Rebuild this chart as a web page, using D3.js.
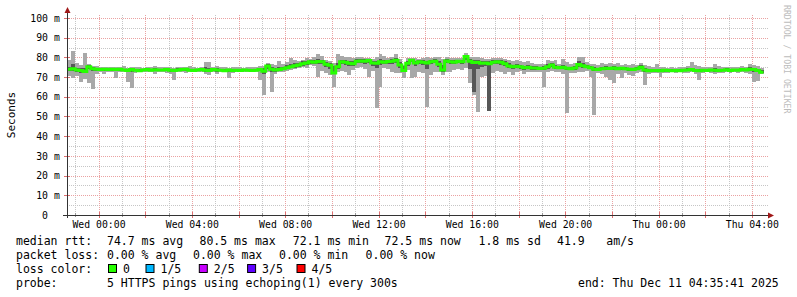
<!DOCTYPE html>
<html>
<head>
<meta charset="utf-8">
<script src="https://cdn.jsdelivr.net/npm/d3@7"></script>
<style>
  html, body { margin: 0; padding: 0; background: #fff; }
  text { font-family: 'DejaVu Sans Mono', monospace; fill: #000; white-space: pre; }
</style>
</head>
<body>
<div id="canvas"></div>
<script>
// one sample every 10 minutes, starting Tue Dec 9 22:40 UTC
var firstSample = Date.UTC(2025, 11, 9, 22, 40);
var stepMs = 10 * 60 * 1000;

// median rtt (ms)
var median = [
  74.0, 74.2, 73.6, 73.4, 72.8, 75.2, 74.3, 74.0, 73.8, 74.0, 73.8, 74.0,
  73.8, 74.0, 73.6, 73.4, 73.8, 73.5, 73.2, 73.6, 73.8, 73.5, 73.7, 73.6,
  73.6, 73.8, 73.5, 73.4, 73.6, 73.8, 74.0, 73.5, 73.4, 73.6, 73.8, 73.5,
  73.4, 73.8, 73.6, 73.5, 73.2, 73.6, 73.4, 73.5, 73.3, 73.6, 73.5, 73.4,
  73.5, 73.8, 73.0, 75.6, 74.0, 73.6, 73.8, 74.2, 74.8, 75.2, 75.8, 76.2,
  76.8, 77.2, 77.8, 77.6, 77.9, 77.8, 76.5, 76.0, 72.1, 75.3, 77.8, 77.6,
  77.0, 76.8, 78.0, 78.2, 78.0, 78.4, 77.2, 77.0, 77.8, 77.6, 77.9, 78.0,
  78.6, 76.2, 73.4, 77.0, 78.6, 77.2, 77.8, 77.5, 77.2, 77.8, 78.0, 76.5,
  73.6, 78.2, 77.8, 77.6, 78.0, 77.8, 80.5, 78.0, 77.4, 77.5, 77.0, 77.2,
  76.8, 77.6, 77.8, 77.5, 76.8, 75.6, 75.3, 75.5, 75.2, 74.8, 75.0, 74.6,
  74.6, 74.4, 74.5, 75.2, 76.1, 75.0, 74.8, 75.0, 74.5, 74.3, 74.6, 76.4,
  75.8, 75.3, 74.8, 74.0, 73.8, 74.2, 74.5, 74.4, 74.6, 74.3, 74.5, 74.2,
  74.0, 73.8, 74.2, 75.0, 73.6, 73.2, 73.4, 73.3, 73.2, 73.5, 73.3, 73.2,
  73.4, 73.2, 73.5, 73.6, 73.8, 73.4, 73.2, 73.5, 73.3, 73.6, 73.5, 73.4,
  73.5, 73.7, 73.4, 73.6, 73.5, 73.8, 73.6, 74.0, 73.8, 73.4, 72.5
];

// outer smoke: slowest / fastest ping (ms)
var smokeHi = [
  78.5, 83.0, 77.2, 76.0, 82.4, 76.5, 75.5, 75.5, 75.0, 75.2, 75.0, 75.3,
  75.2, 75.0, 75.5, 74.8, 75.0, 75.3, 75.0, 74.8, 75.0, 75.2, 75.6, 75.0,
  75.0, 75.3, 75.0, 74.8, 75.2, 75.0, 75.3, 75.4, 75.0, 74.8, 75.0, 77.8,
  77.5, 75.0, 75.5, 75.0, 75.0, 74.8, 75.0, 74.9, 75.0, 74.8, 75.0, 75.0,
  75.0, 75.5, 75.8, 77.0, 76.5, 76.0, 78.2, 76.5, 77.5, 79.8, 78.5, 78.0,
  78.5, 79.5, 79.0, 80.0, 81.5, 80.5, 78.5, 78.0, 77.0, 81.5, 80.5, 80.2,
  80.4, 79.5, 80.0, 80.4, 79.8, 79.5, 79.0, 80.0, 81.5, 80.5, 79.5, 80.0,
  81.5, 79.0, 76.0, 79.5, 79.8, 79.5, 79.0, 79.5, 80.0, 79.8, 80.4, 80.0,
  79.0, 80.0, 79.5, 79.5, 79.5, 79.8, 82.0, 80.4, 80.4, 80.0, 79.5, 79.0,
  79.0, 79.8, 79.5, 79.8, 79.0, 78.7, 78.0, 78.5, 78.0, 77.5, 78.0, 77.2,
  76.5, 76.5, 76.8, 78.7, 78.0, 78.7, 76.8, 79.0, 77.5, 76.5, 77.0, 80.0,
  80.0, 77.5, 76.5, 76.5, 76.0, 77.0, 76.8, 77.0, 76.5, 77.0, 76.2, 76.5,
  76.0, 76.5, 76.0, 77.0, 76.2, 75.5, 75.0, 76.5, 75.2, 75.0, 74.8, 75.0,
  74.8, 75.0, 75.2, 75.5, 77.8, 76.0, 75.5, 75.0, 75.3, 75.0, 76.6, 75.4,
  75.0, 75.2, 75.0, 75.3, 75.0, 75.5, 75.2, 76.6, 76.0, 75.5, 74.5
];
var smokeLo = [
  70.5, 69.4, 70.5, 67.7, 69.0, 66.9, 64.0, 71.5, 72.5, 71.5, 72.5, 72.8,
  69.4, 72.5, 72.8, 67.7, 64.3, 72.0, 72.5, 72.8, 72.5, 72.8, 71.8, 72.6,
  72.5, 72.0, 71.5, 68.5, 72.5, 72.8, 72.0, 72.6, 72.5, 72.8, 72.4, 71.5,
  71.0, 72.4, 71.4, 72.6, 72.5, 69.4, 72.0, 72.6, 72.8, 72.5, 72.4, 72.5,
  72.5, 68.5, 61.0, 72.5, 62.3, 71.5, 72.5, 72.8, 73.2, 73.8, 74.0, 74.5,
  75.0, 74.5, 76.0, 75.5, 70.2, 73.0, 72.0, 71.0, 65.1, 72.5, 73.0, 72.8,
  71.0, 73.5, 74.5, 75.0, 74.0, 70.2, 73.0, 54.2, 65.1, 74.5, 74.0, 72.5,
  72.0, 72.0, 69.4, 73.6, 69.4, 70.0, 72.8, 72.0, 55.0, 71.0, 72.8, 72.5,
  71.0, 72.5, 72.8, 73.5, 74.0, 73.5, 74.5, 67.0, 61.0, 52.4, 70.2, 70.5,
  53.0, 72.0, 73.0, 72.5, 71.5, 72.5, 71.0, 72.5, 73.0, 71.5, 72.5, 72.8,
  72.8, 72.5, 65.1, 72.5, 73.0, 72.5, 72.8, 71.5, 51.6, 72.0, 72.0, 72.5,
  72.5, 73.0, 70.2, 50.8, 72.0, 71.5, 70.0, 68.5, 66.9, 71.5, 69.4, 72.0,
  71.0, 70.5, 72.0, 72.5, 66.0, 71.5, 72.0, 72.2, 70.2, 72.0, 72.3, 72.4,
  72.3, 72.5, 72.0, 72.2, 72.5, 71.8, 68.5, 72.0, 72.4, 72.0, 71.5, 72.2,
  72.3, 72.5, 72.0, 72.4, 72.3, 72.5, 72.2, 71.5, 67.7, 68.0, 71.5
];

// inner smoke: 2nd / 4th ping (ms)
var innerHi = [
  75.0, 76.5, 74.8, 74.5, 74.5, 76.0, 75.0, 74.8, 74.5, 74.8, 74.6, 74.8,
  74.5, 74.8, 74.3, 74.2, 74.6, 74.2, 74.0, 74.3, 74.6, 74.2, 74.6, 74.3,
  74.3, 74.5, 74.2, 74.1, 74.4, 74.5, 74.8, 74.3, 74.1, 74.3, 74.5, 75.0,
  74.8, 74.5, 74.4, 74.2, 74.0, 74.2, 74.1, 74.2, 74.0, 74.3, 74.2, 74.1,
  74.2, 74.6, 74.5, 76.8, 75.2, 74.5, 75.0, 75.2, 76.0, 76.8, 77.0, 77.2,
  78.0, 78.3, 78.8, 78.6, 79.0, 78.8, 77.8, 77.2, 75.5, 77.0, 78.8, 78.6,
  78.4, 78.0, 79.0, 79.2, 79.0, 79.2, 78.4, 78.2, 79.0, 78.6, 78.8, 79.0,
  79.5, 77.5, 75.5, 78.2, 79.2, 78.2, 78.8, 78.6, 78.4, 78.8, 79.0, 78.0,
  76.0, 79.2, 78.8, 78.6, 78.8, 78.8, 81.0, 79.2, 78.8, 78.6, 78.0, 78.2,
  78.0, 78.8, 78.8, 78.5, 78.0, 77.0, 76.3, 76.5, 76.2, 75.8, 76.0, 75.5,
  75.5, 75.2, 75.4, 76.5, 77.0, 76.0, 75.6, 76.0, 75.3, 75.0, 75.6, 78.0,
  77.0, 76.2, 75.6, 75.0, 74.6, 75.0, 75.4, 75.3, 75.5, 75.2, 75.3, 75.0,
  74.8, 74.6, 75.0, 76.0, 74.5, 74.0, 74.2, 74.2, 74.0, 74.3, 74.1, 74.0,
  74.1, 74.0, 74.2, 74.4, 74.8, 74.2, 74.0, 74.2, 74.0, 74.3, 74.4, 74.1,
  74.2, 74.4, 74.1, 74.3, 74.2, 74.5, 74.3, 75.0, 74.8, 74.3, 73.5
];
var innerLo = [
  73.0, 73.2, 72.8, 72.0, 72.0, 74.0, 73.2, 73.2, 73.2, 73.2, 73.0, 73.3,
  73.1, 73.3, 72.9, 72.6, 72.8, 72.9, 72.6, 73.0, 73.1, 72.9, 73.0, 73.0,
  73.0, 73.1, 72.8, 72.6, 73.0, 73.2, 73.3, 72.9, 72.8, 73.0, 73.1, 72.8,
  72.6, 73.0, 72.8, 72.9, 72.6, 72.5, 72.8, 72.9, 72.7, 73.0, 72.9, 72.8,
  72.9, 73.0, 71.5, 74.0, 72.5, 72.8, 73.0, 73.5, 74.0, 74.5, 74.8, 75.3,
  75.8, 76.0, 76.8, 76.6, 76.5, 76.5, 75.0, 74.0, 71.5, 74.0, 76.5, 76.2,
  75.5, 75.5, 77.0, 77.2, 76.8, 77.0, 75.8, 74.5, 76.0, 76.6, 76.8, 76.5,
  77.0, 74.5, 72.5, 75.5, 77.5, 75.8, 76.8, 76.2, 74.0, 76.5, 77.0, 75.0,
  72.8, 77.0, 76.5, 76.6, 77.0, 76.8, 78.5, 74.0, 62.6, 74.0, 75.0, 75.5,
  53.0, 76.5, 76.8, 76.2, 75.5, 74.5, 74.3, 74.5, 74.2, 73.8, 74.0, 73.8,
  73.8, 73.6, 73.5, 74.2, 75.0, 74.0, 73.9, 74.0, 73.5, 73.5, 73.8, 75.0,
  74.8, 74.4, 73.9, 73.0, 73.0, 73.4, 73.6, 73.5, 73.8, 73.5, 73.6, 73.4,
  73.2, 73.0, 73.4, 74.0, 72.8, 72.5, 72.7, 72.6, 72.5, 72.8, 72.6, 72.5,
  72.8, 72.6, 72.9, 73.0, 73.1, 72.8, 72.5, 72.9, 72.7, 73.0, 72.8, 72.8,
  72.9, 73.1, 72.8, 73.0, 72.9, 73.1, 73.0, 73.2, 72.5, 72.6, 72.0
];

var yTicks = [0, 10, 20, 30, 40, 50, 60, 70, 80, 90, 100];
var lossLabels = ['0', '1/5', '2/5', '3/5', '4/5'];
var lossColors = ['#26ff00', '#00b8ff', '#c800ff', '#5e00ff', '#ff0000'];
var rttStats = ['74.7 ms avg', '80.5 ms max', '72.1 ms min', '72.5 ms now', '1.8 ms sd', '41.9', 'am/s'];
var lossStats = ['0.00 % avg', '0.00 % max', '0.00 % min', '0.00 % now'];
var probeText = '5 HTTPS pings using echoping(1) every 300s';
var endText = 'end: Thu Dec 11 04:35:41 2025';

(function (d3) {
  var svg, x, y;
  var W = 797, H = 297;
  var left = 67, right = 767, top = 15, bottom = 215;
  var axisColor = '#333';
  var arrowColor = '#a01818';
  var majorGrid = '#eaa2a2';
  var minorGrid = '#c6c6c6';

  var samples = median.map(function (m, i) {
    return {
      t0: new Date(firstSample + i * stepMs),
      t1: new Date(firstSample + (i + 1) * stepMs),
      med: m, lo: smokeLo[i], hi: smokeHi[i], ilo: innerLo[i], ihi: innerHi[i]
    };
  });

  init();

  function init () {
    createSvg();
    createScales();
    createGrid();
    createSmoke();
    createMedian();
    createAxes();
    createLabels();
    createLegend();
  }

  function createSvg () {
    svg = d3.select('#canvas')
      .append('svg')
      .attr('width', W)
      .attr('height', H)
      .style('display', 'block');
    svg.append('rect').attr('width', W).attr('height', H).attr('fill', '#fff');
  }

  function createScales () {
    x = d3.scaleUtc()
      .domain([new Date(Date.UTC(2025, 11, 9, 22, 39)), new Date(Date.UTC(2025, 11, 11, 4, 39))])
      .range([left, right]);
    // 0..100 ms spans 197px, plot is 200px tall
    y = d3.scaleLinear()
      .domain([0, 100 * 200 / 197])
      .range([bottom, top]);
  }

  function createGrid () {
    var g = svg.append('g').attr('shape-rendering', 'crispEdges');
    var hours = x.ticks(d3.utcHour.every(1));
    var twoHours = x.ticks(d3.utcHour.every(2)).map(Number);

    // horizontal: grey every 5 ms, red every 10 ms
    d3.range(5, 101, 10).forEach(function (v) {
      g.append('line')
        .attr('x1', left).attr('x2', right + 1)
        .attr('y1', Math.round(y(v)) + 0.5).attr('y2', Math.round(y(v)) + 0.5)
        .attr('stroke', minorGrid).attr('stroke-dasharray', '1,1');
    });
    hours.forEach(function (t) {
      if (twoHours.indexOf(+t) >= 0) return;
      var px = Math.round(x(t)) + 0.5;
      g.append('line')
        .attr('x1', px).attr('x2', px).attr('y1', top).attr('y2', bottom)
        .attr('stroke', minorGrid).attr('stroke-dasharray', '1,1');
    });
    yTicks.slice(1).forEach(function (v) {
      g.append('line')
        .attr('x1', left).attr('x2', right + 1)
        .attr('y1', Math.round(y(v)) + 0.5).attr('y2', Math.round(y(v)) + 0.5)
        .attr('stroke', majorGrid).attr('stroke-dasharray', '1,1');
    });
    twoHours.forEach(function (t) {
      var px = Math.round(x(t)) + 0.5;
      g.append('line')
        .attr('x1', px).attr('x2', px).attr('y1', top).attr('y2', bottom)
        .attr('stroke', majorGrid).attr('stroke-dasharray', '1,1');
    });
  }

  function createSmoke () {
    var g = svg.append('g').attr('shape-rendering', 'crispEdges');
    g.selectAll('rect.outer')
      .data(samples)
      .enter()
      .append('rect')
      .attr('class', 'outer')
      .attr('x', function (d) { return x(d.t0); })
      .attr('width', function (d) { return x(d.t1) - x(d.t0); })
      .attr('y', function (d) { return y(d.hi); })
      .attr('height', function (d) { return y(d.lo) - y(d.hi); })
      .attr('fill', '#a8a8a8');
    g.selectAll('rect.inner')
      .data(samples)
      .enter()
      .append('rect')
      .attr('class', 'inner')
      .attr('x', function (d) { return x(d.t0); })
      .attr('width', function (d) { return x(d.t1) - x(d.t0); })
      .attr('y', function (d) { return y(d.ihi); })
      .attr('height', function (d) { return y(d.ilo) - y(d.ihi); })
      .attr('fill', '#575757');
  }

  function createMedian () {
    var pts = samples.map(function (d) { return [x(d.t0), y(d.med)]; });
    var last = samples[samples.length - 1];
    pts.push([x(last.t1), y(last.med)]);
    svg.append('path')
      .attr('d', d3.line().curve(d3.curveStepAfter)(pts))
      .attr('fill', 'none')
      .attr('stroke', lossColors[0])
      .attr('stroke-width', 3);
  }

  function createAxes () {
    var g = svg.append('g').attr('shape-rendering', 'crispEdges');
    var twoHours = x.ticks(d3.utcHour.every(2));
    var hours = x.ticks(d3.utcHour.every(1));

    hours.forEach(function (t) {
      var px = Math.round(x(t)) + 0.5;
      var major = twoHours.map(Number).indexOf(+t) >= 0;
      g.append('line')
        .attr('x1', px).attr('x2', px)
        .attr('y1', bottom - (major ? 3 : 2)).attr('y2', bottom + (major ? 3 : 2))
        .attr('stroke', major ? '#e07070' : '#999');
    });
    yTicks.forEach(function (v) {
      g.append('line')
        .attr('x1', left - 3).attr('x2', left + 3)
        .attr('y1', Math.round(y(v)) + 0.5).attr('y2', Math.round(y(v)) + 0.5)
        .attr('stroke', v === 0 ? axisColor : '#e07070');
    });

    g.append('line')
      .attr('x1', left - 4).attr('x2', right + 2)
      .attr('y1', bottom + 0.5).attr('y2', bottom + 0.5)
      .attr('stroke', axisColor);
    g.append('line')
      .attr('x1', left + 0.5).attr('x2', left + 0.5)
      .attr('y1', bottom + 3).attr('y2', top - 3)
      .attr('stroke', axisColor);

    svg.append('path')
      .attr('d', 'M' + (left + 0.5) + ',7 L' + (left + 3.5) + ',13 L' + (left - 2.5) + ',13 Z')
      .attr('fill', arrowColor);
    svg.append('path')
      .attr('d', 'M' + (right + 7) + ',' + (bottom + 0.5) + ' L' + (right + 1) + ',' + (bottom - 2.5) +
        ' L' + (right + 1) + ',' + (bottom + 3.5) + ' Z')
      .attr('fill', arrowColor);
  }

  function createLabels () {
    var labels = svg.append('g').style('font-size', '9.8px');
    yTicks.forEach(function (v) {
      labels.append('text')
        .attr('x', 48)
        .attr('y', y(v) + 3.6)
        .attr('text-anchor', 'end')
        .text(v);
      if (v > 0) {
        labels.append('text')
          .attr('x', 54)
          .attr('y', y(v) + 3.6)
          .text('m');
      }
    });

    x.ticks(d3.utcHour.every(4)).forEach(function (t) {
      labels.append('text')
        .attr('x', x(t) + 0.5)
        .attr('y', 228)
        .attr('text-anchor', 'middle')
        .text(d3.utcFormat('%a %H:%M')(t));
    });

    svg.append('text')
      .attr('transform', 'translate(14.5,' + ((top + bottom) / 2) + ') rotate(-90)')
      .attr('text-anchor', 'middle')
      .style('font-size', '11px')
      .text('Seconds');

    svg.append('text')
      .attr('transform', 'translate(783.5,5) rotate(90)')
      .style('font-size', '8.2px')
      .style('fill', '#bcbcbc')
      .text('RRDTOOL / TOBI OETIKER');
  }

  function createLegend () {
    var g = svg.append('g').style('font-size', '11.5px');
    var rows = [244.5, 258.8, 273, 287.4];

    g.append('text').attr('x', 16).attr('y', rows[0]).text('median rtt:');
    [107, 199.5, 292.8, 384.6, 478.5, 557, 606.3].forEach(function (px, i) {
      g.append('text').attr('x', px).attr('y', rows[0]).text(rttStats[i]);
    });

    g.append('text').attr('x', 16).attr('y', rows[1]).text('packet loss:');
    [107, 193, 279, 365.6].forEach(function (px, i) {
      g.append('text').attr('x', px).attr('y', rows[1]).text(lossStats[i]);
    });

    g.append('text').attr('x', 16).attr('y', rows[2]).text('loss color:');
    [108.5, 146, 199.3, 247.6, 297].forEach(function (px, i) {
      g.append('rect')
        .attr('x', px).attr('y', 264.5)
        .attr('width', 8).attr('height', 8)
        .attr('fill', lossColors[i])
        .attr('stroke', '#000')
        .attr('stroke-width', 1);
      g.append('text').attr('x', px + 14.5).attr('y', rows[2]).text(lossLabels[i]);
    });

    g.append('text').attr('x', 16).attr('y', rows[3]).text('probe:');
    g.append('text').attr('x', 107).attr('y', rows[3]).text(probeText);
    g.append('text').attr('x', 578).attr('y', rows[3]).text(endText);
  }
})(window.d3);
</script>
</body>
</html>
